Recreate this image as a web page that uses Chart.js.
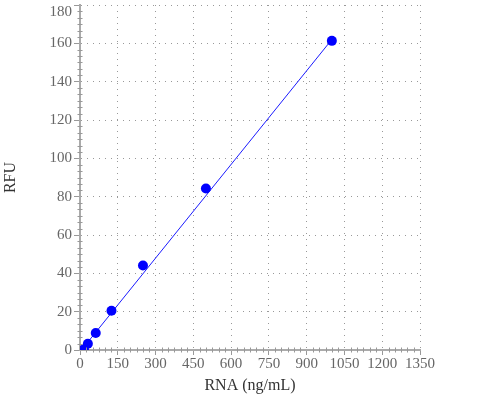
<!DOCTYPE html>
<html>
<head>
<meta charset="utf-8">
<script src="https://cdn.jsdelivr.net/npm/chart.js@4.4.1/dist/chart.umd.min.js"></script>
<style>
  html, body { margin: 0; padding: 0; background: #fff; }
  #wrap { width: 500px; height: 400px; position: relative; }
</style>
</head>
<body>
<div id="wrap"><canvas id="c"></canvas></div>
<script>
// Data
const rnaConc = [15.625, 31.25, 62.5, 125, 250, 500, 1000];
const rfuValues = [0.4, 3.3, 8.9, 20.5, 44.1, 84.3, 161.3];
// Fitted line endpoints
const fitX = [15.625, 1000];
const fitY = [1.6, 162.0];
// Axes
const xMin = 0, xMax = 1350, xStep = 150, xMinorStep = 25;
const yMin = 0, yMax = 180, yStep = 20, yMinorStep = 20 / 6;
const xTitle = 'RNA (ng/mL)';
const yTitle = 'RFU';

const serif = "Liberation Serif";
Chart.defaults.font.family = serif;

const minorTicks = {
  id: 'minorTicks',
  afterDraw(chart) {
    const ctx = chart.ctx;
    const xs = chart.scales.x, ys = chart.scales.y;
    ctx.save();
    ctx.strokeStyle = '#999';
    ctx.lineWidth = 1;
    ctx.beginPath();
    const yAxisPix = ys.getPixelForValue(yMin);
    for (let v = xMin; v <= xMax + 1e-6; v += xMinorStep) {
      if (Math.abs(v / xStep - Math.round(v / xStep)) < 1e-6) continue;
      const px = Math.round(xs.getPixelForValue(v)) + 0.5;
      ctx.moveTo(px, yAxisPix - 2.5);
      ctx.lineTo(px, yAxisPix + 2.5);
    }
    const xAxisPix = xs.getPixelForValue(xMin);
    for (let i = 1; yMin + i * yMinorStep <= yMax + 1e-6; i++) {
      if (i % 6 === 0) continue;
      const v = yMin + i * yMinorStep;
      const py = Math.round(ys.getPixelForValue(v)) + 0.5;
      ctx.moveTo(xAxisPix - 2.5, py);
      ctx.lineTo(xAxisPix + 2.5, py);
    }
    ctx.stroke();
    ctx.restore();
  }
};

new Chart(document.getElementById('c'), {
  type: 'scatter',
  data: {
    datasets: [
      {
        label: 'fit',
        data: fitX.map((x, i) => ({ x: x, y: fitY[i] })),
        showLine: true,
        borderColor: '#1a1aff',
        borderWidth: 1,
        pointRadius: 0,
        order: 2
      },
      {
        label: 'RFU',
        data: rnaConc.map((x, i) => ({ x: x, y: rfuValues[i] })),
        showLine: false,
        backgroundColor: '#0000ff',
        borderColor: '#0000ff',
        pointRadius: 5,
        pointBorderWidth: 0,
        order: 1
      }
    ]
  },
  options: {
    responsive: true,
    maintainAspectRatio: false,
    animation: false,
    layout: { padding: { left: 0, right: 80, top: 0, bottom: 0 } },
    plugins: { legend: { display: false }, tooltip: { enabled: false } },
    scales: {
      x: {
        type: 'linear',
        min: xMin, max: xMax,
        ticks: {
          stepSize: xStep,
          color: '#666',
          font: { family: serif, size: 15 },
          padding: 0,
          maxRotation: 0,
          autoSkip: false,
          callback: (v) => String(v)
        },
        grid: { color: '#999', lineWidth: 1, tickColor: '#999', tickLength: 5 },
        border: { display: true, color: '#aaa', width: 2, dash: [1, 5] },
        title: {
          display: true, text: xTitle, color: '#333',
          font: { family: serif, size: 16 },
          padding: { top: 0, bottom: 5 }
        },
        afterFit(scale) { scale.height = 50; }
      },
      y: {
        type: 'linear',
        min: yMin, max: yMax,
        ticks: {
          stepSize: yStep,
          color: '#666',
          font: (c) => (c.tick && c.tick.value === yMax)
            ? { family: serif, size: 15, lineHeight: 1.0 }
            : { family: serif, size: 15 },
          padding: 2,
          autoSkip: false,
          callback: (v) => v === yMax ? ['', String(v)] : String(v)
        },
        grid: { color: '#999', lineWidth: 1, tickColor: '#999', tickLength: 6 },
        border: { display: true, color: '#aaa', width: 2, dash: [1, 5] },
        title: {
          display: true, text: yTitle, color: '#333',
          font: { family: serif, size: 16 },
          padding: { top: 1.5, bottom: 10 }
        },
        afterFit(scale) { scale.width = 80; scale.paddingTop = 0; }
      }
    }
  },
  plugins: [minorTicks]
});
</script>
</body>
</html>
